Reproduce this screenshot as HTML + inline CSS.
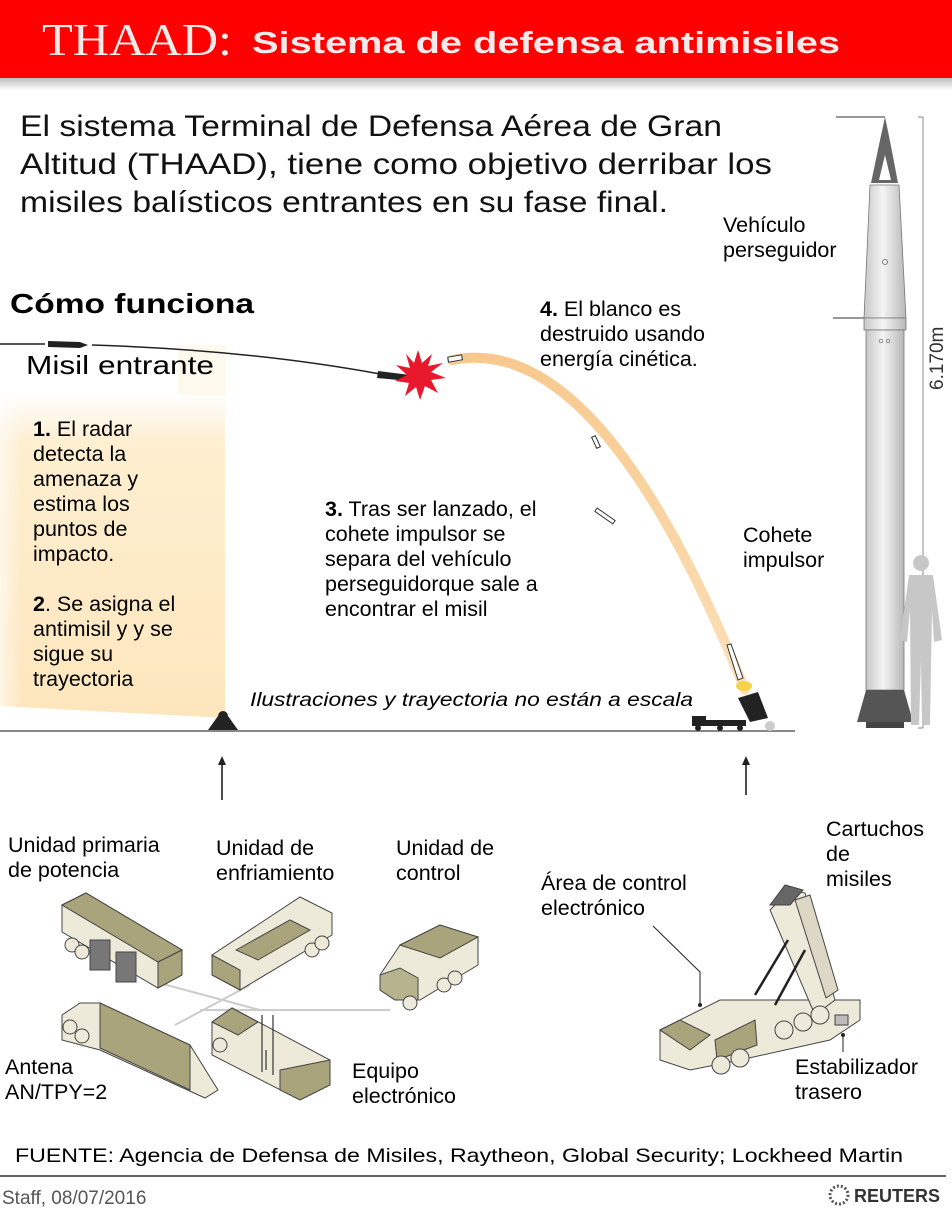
<!DOCTYPE html>
<html><head><meta charset="utf-8"><style>
html,body{margin:0;padding:0;background:#fff}
body{width:952px;height:1212px;position:relative;overflow:hidden;font-family:"Liberation Sans","DejaVu Sans",sans-serif;color:#111}
svg{position:absolute;left:0;top:0}
</style></head><body>
<svg width="952" height="1212" viewBox="0 0 952 1212" xmlns="http://www.w3.org/2000/svg" font-family="Liberation Sans, DejaVu Sans, sans-serif">
<defs>
<linearGradient id="sh" x1="0" y1="0" x2="0" y2="1"><stop offset="0" stop-color="#bbb"/><stop offset="1" stop-color="#fff"/></linearGradient>
<linearGradient id="yel" x1="0" y1="0" x2="0" y2="1"><stop offset="0" stop-color="#fdf1d6" stop-opacity="0"/><stop offset="0.15" stop-color="#fdefd0"/><stop offset="1" stop-color="#fde6bd"/></linearGradient>
<linearGradient id="yelL" x1="0" y1="0" x2="1" y2="0"><stop offset="0" stop-color="#fff" stop-opacity="0.6"/><stop offset="0.1" stop-color="#fff" stop-opacity="0"/></linearGradient>
<linearGradient id="rk" x1="0" y1="0" x2="1" y2="0"><stop offset="0" stop-color="#c8c8c8"/><stop offset="0.45" stop-color="#f4f4f4"/><stop offset="1" stop-color="#b8b8b8"/></linearGradient>
<linearGradient id="arc" x1="0" y1="0" x2="0" y2="1"><stop offset="0" stop-color="#f8c98e"/><stop offset="1" stop-color="#fbe0b8"/></linearGradient>
</defs>
<rect x="0" y="78" width="952" height="12" fill="url(#sh)"/>
<rect x="0" y="0" width="952" height="78" fill="#ff0000"/>
<text x="42" y="55" font-family="Liberation Serif, serif" font-size="46" fill="#f5eaea" textLength="190" lengthAdjust="spacingAndGlyphs">THAAD:</text>
<text x="252" y="53" font-size="31" font-weight="bold" fill="#f5eaea" textLength="588" lengthAdjust="spacingAndGlyphs">Sistema de defensa antimisiles</text>
<g font-size="30" fill="#111">
<text x="20" y="136" textLength="702" lengthAdjust="spacingAndGlyphs">El sistema Terminal de Defensa Aérea de Gran</text>
<text x="20" y="174" textLength="752" lengthAdjust="spacingAndGlyphs">Altitud (THAAD), tiene como objetivo derribar los</text>
<text x="20" y="212" textLength="648" lengthAdjust="spacingAndGlyphs">misiles balísticos entrantes en su fase final.</text>
</g>
<text x="10" y="313" font-size="28" font-weight="bold" textLength="244" lengthAdjust="spacingAndGlyphs">Cómo funciona</text>
<polygon points="0,392 225,392 225,718 0,706" fill="url(#yel)"/>
<rect x="0" y="392" width="225" height="326" fill="url(#yelL)"/>
<rect x="178" y="345" width="48" height="50" fill="#fdf3dc" opacity="0.5"/>
<text x="26" y="374" font-size="26" textLength="188" lengthAdjust="spacingAndGlyphs">Misil entrante</text>
<g font-size="21.5">
<text x="33" y="436"><tspan font-weight="bold">1.</tspan> El radar</text>
<text x="33" y="461">detecta la</text>
<text x="33" y="486">amenaza y</text>
<text x="33" y="511">estima los</text>
<text x="33" y="536">puntos de</text>
<text x="33" y="561">impacto.</text>
<text x="33" y="611"><tspan font-weight="bold">2</tspan>. Se asigna el</text>
<text x="33" y="636">antimisil y  y se</text>
<text x="33" y="661">sigue su</text>
<text x="33" y="686">trayectoria</text>
</g>
<path d="M0,344 L45,344 M92,345 Q250,350 380,374" stroke="#222" stroke-width="1.5" fill="none"/>
<path d="M48,341 L80,342 L88,345 L80,348 L48,347 Z" fill="#222"/>
<path d="M378,371 L410,375 L418,378 L409,381 L377,378 Z" fill="#222"/>
<path d="M452,360 Q600,330 745,690" stroke="url(#arc)" stroke-width="10" fill="none" stroke-linecap="round"/>
<polygon fill="#e8192c" points="418,350 422,363 432,354 428,366 443,363 431,372 446,378 431,380 438,393 425,386 420,400 416,387 405,396 409,383 395,381 407,375 396,365 410,368 406,354 414,363"/>
<rect x="448" y="356" width="14" height="5" fill="#fff" stroke="#333" stroke-width="1" transform="rotate(-10 455 358)"/>
<rect x="590" y="440" width="12" height="4" fill="#fff" stroke="#333" stroke-width="1" transform="rotate(65 596 442)"/>
<rect x="594" y="514" width="22" height="4" fill="#fff" stroke="#333" stroke-width="1" transform="rotate(35 605 516)"/>
<path d="M727,645 L731,644 L743,678 L738,680 Z" fill="#fff" stroke="#333"/>
<ellipse cx="744" cy="686" rx="8" ry="5" fill="#f6d34a"/>
<g font-size="21.5">
<text x="540" y="316"><tspan font-weight="bold">4.</tspan> El blanco es</text>
<text x="540" y="341">destruido usando</text>
<text x="540" y="366">energía cinética.</text>
<text x="325" y="516"><tspan font-weight="bold">3.</tspan> Tras ser lanzado, el</text>
<text x="325" y="541">cohete impulsor se</text>
<text x="325" y="566">separa del vehículo</text>
<text x="325" y="591">perseguidorque sale a</text>
<text x="325" y="616">encontrar el misil</text>
<text x="723" y="232">Vehículo</text>
<text x="723" y="257">perseguidor</text>
<text x="743" y="542">Cohete</text>
<text x="743" y="567">impulsor</text>
</g>
<text x="250" y="706" font-size="19" font-style="italic" textLength="443" lengthAdjust="spacingAndGlyphs">Ilustraciones y trayectoria no están a escala</text>
<line x1="0" y1="731" x2="795" y2="731" stroke="#888" stroke-width="2"/>
<path d="M208,730 L218,716 L228,716 L238,730 Z" fill="#222"/><circle cx="223" cy="716" r="5" fill="#222"/>
<g fill="#222"><rect x="692" y="716" width="14" height="10"/><rect x="706" y="720" width="40" height="6"/><circle cx="698" cy="728" r="3"/><circle cx="720" cy="728" r="3"/><circle cx="740" cy="728" r="3"/>
<polygon points="738,698 758,692 768,718 750,722"/></g>
<circle cx="770" cy="726" r="5" fill="#ccc"/>
<line x1="222" y1="800" x2="222" y2="763" stroke="#222" stroke-width="1.6"/><path d="M218,765 L222,756 L226,765 Z" fill="#222"/>
<line x1="746" y1="795" x2="746" y2="763" stroke="#222" stroke-width="1.6"/><path d="M742,765 L746,756 L750,765 Z" fill="#222"/>
<line x1="836" y1="117" x2="885" y2="117" stroke="#333"/>
<line x1="833" y1="318" x2="866" y2="318" stroke="#333"/>
<line x1="923" y1="117" x2="923" y2="728" stroke="#888"/>
<line x1="918" y1="117" x2="923" y2="117" stroke="#888"/><line x1="918" y1="728" x2="923" y2="728" stroke="#888"/>
<text transform="translate(943,390) rotate(-90)" font-family="Liberation Sans Narrow, Liberation Sans, sans-serif" font-size="19" fill="#333">6.170m</text>
<path d="M885,117 Q880,140 871,183 L898,183 Q890,140 885,117 Z" fill="#666"/>
<path d="M879,180 L885,155 L891,180 Z" fill="#fff"/>
<path d="M870,185 L899,185 L906,318 L864,318 Z" fill="url(#rk)" stroke="#777" stroke-width="0.8"/>
<rect x="864" y="318" width="42" height="12" fill="url(#rk)" stroke="#777" stroke-width="0.8"/>
<rect x="866" y="330" width="38" height="360" fill="url(#rk)" stroke="#777" stroke-width="0.8"/>
<path d="M866,690 L904,690 L913,722 L857,722 Z" fill="#555"/>
<rect x="866" y="722" width="38" height="6" fill="#444"/>
<circle cx="885" cy="262" r="2.5" fill="none" stroke="#666" stroke-width="0.8"/>
<circle cx="881" cy="341" r="1.8" fill="none" stroke="#666" stroke-width="0.7"/><circle cx="888" cy="341" r="1.8" fill="none" stroke="#666" stroke-width="0.7"/>
<g fill="#c7c7c7"><circle cx="921" cy="563" r="8"/><path d="M909,575 L933,575 L942,640 L934,642 L932,610 L930,725 L922,725 L921,660 L919,725 L911,725 L910,610 L907,642 L900,640 Z"/></g>
<g font-size="21.5">
<text x="8" y="852">Unidad primaria</text><text x="8" y="877">de potencia</text>
<text x="216" y="855">Unidad de</text><text x="216" y="880">enfriamiento</text>
<text x="396" y="855">Unidad de</text><text x="396" y="880">control</text>
<text x="5" y="1074">Antena</text><text x="5" y="1099">AN/TPY=2</text>
<text x="352" y="1078">Equipo</text><text x="352" y="1103">electrónico</text>
<text x="541" y="890">Área de control</text><text x="541" y="915">electrónico</text>
<text x="826" y="836">Cartuchos</text><text x="826" y="861">de</text><text x="826" y="886">misiles</text>
<text x="795" y="1074">Estabilizador</text><text x="795" y="1099">trasero</text>
</g>
<g stroke="#ccc" stroke-width="2"><line x1="148" y1="980" x2="260" y2="1010"/><line x1="175" y1="1025" x2="250" y2="985"/><line x1="200" y1="1010" x2="390" y2="1010"/></g>
<g stroke="#444" stroke-width="1" fill="#eeeada">
<polygon points="62,905 86,893 182,950 182,975 158,988 62,932"/>
<polygon points="62,905 86,893 182,950 158,962" fill="#a9a47c"/>
<polygon points="158,962 182,950 182,975 158,988" fill="#a9a47c"/>
<rect x="90" y="940" width="20" height="30" fill="#777"/><rect x="116" y="952" width="20" height="30" fill="#777"/>
<circle cx="72" cy="945" r="7"/><circle cx="82" cy="952" r="7"/>
<polygon points="212,955 300,897 332,913 332,935 240,990 212,975"/>
<polygon points="236,950 290,920 310,930 258,960" fill="#a9a47c"/>
<polygon points="212,955 240,970 240,990 212,975" fill="#a9a47c"/>
<circle cx="312" cy="950" r="7"/><circle cx="322" cy="943" r="7"/>
<polygon points="380,975 400,945 440,925 478,937 478,965 420,1000 395,1000 380,990"/>
<polygon points="400,945 440,925 478,937 440,958" fill="#a9a47c"/>
<polygon points="380,975 400,968 418,978 418,1000 395,1000 380,990" fill="#b8b38f"/>
<circle cx="410" cy="1003" r="7"/><circle cx="444" cy="985" r="7"/><circle cx="455" cy="978" r="7"/>
<polygon points="62,1015 80,1003 100,1003 190,1045 218,1090 205,1098 100,1050 62,1040"/>
<polygon points="100,1003 190,1045 190,1090 100,1048" fill="#a9a47c"/>
<circle cx="70" cy="1027" r="7"/><circle cx="82" cy="1036" r="7"/>
<polygon points="212,1022 232,1008 330,1060 330,1085 300,1100 212,1055"/>
<polygon points="212,1022 232,1008 258,1022 238,1035" fill="#a9a47c"/>
<polygon points="280,1070 330,1060 330,1085 300,1100 280,1090" fill="#a9a47c"/>
<circle cx="220" cy="1045" r="7"/>
</g>
<g stroke="#333" stroke-width="1.2"><line x1="262" y1="1015" x2="262" y2="1072"/><line x1="273" y1="1015" x2="273" y2="1075"/><line x1="266" y1="1050" x2="266" y2="1070"/></g>
<g stroke="#444" stroke-width="1" fill="#eeeada">
<polygon points="660,1030 720,1000 860,1000 860,1020 830,1040 740,1060 690,1070 660,1060"/>
<polygon points="660,1030 680,1020 710,1035 690,1050" fill="#a9a47c"/>
<polygon points="715,1040 755,1020 757,1045 717,1060" fill="#a9a47c"/>
<polygon points="770,910 790,890 805,893 835,1000 815,1015"/>
<polygon points="795,900 810,895 838,990 826,998" fill="#ddd8c5"/>
<polygon points="770,905 785,885 803,890 790,905" fill="#666"/>
<circle cx="721" cy="1065" r="9"/><circle cx="740" cy="1058" r="9"/>
<circle cx="784" cy="1030" r="9"/><circle cx="803" cy="1022" r="9"/><circle cx="820" cy="1015" r="9"/>
<polygon points="835,1015 848,1015 848,1025 835,1025" fill="#bbb"/>
</g>
<g stroke="#222" stroke-width="2.5"><line x1="755" y1="995" x2="788" y2="940"/><line x1="775" y1="1005" x2="805" y2="950"/></g>
<path d="M653,926 L700,972 L700,1005" stroke="#222" fill="none"/><circle cx="700" cy="1005" r="2" fill="#222"/>
<line x1="843" y1="1035" x2="843" y2="1052" stroke="#222"/><circle cx="843" cy="1035" r="2" fill="#222"/>
<text x="15" y="1162" font-size="19.5" textLength="888" lengthAdjust="spacingAndGlyphs">FUENTE: Agencia de Defensa de Misiles, Raytheon, Global Security; Lockheed Martin</text>
<line x1="0" y1="1176" x2="946" y2="1176" stroke="#333" stroke-width="1.5"/>
<text x="2" y="1204" font-size="19" fill="#555">Staff, 08/07/2016</text>
<circle cx="839" cy="1195" r="9" fill="none" stroke="#555" stroke-width="3" stroke-dasharray="2 2"/>
<text x="854" y="1202" font-size="18" font-weight="bold" fill="#333">REUTERS</text>
</svg>
</body></html>
